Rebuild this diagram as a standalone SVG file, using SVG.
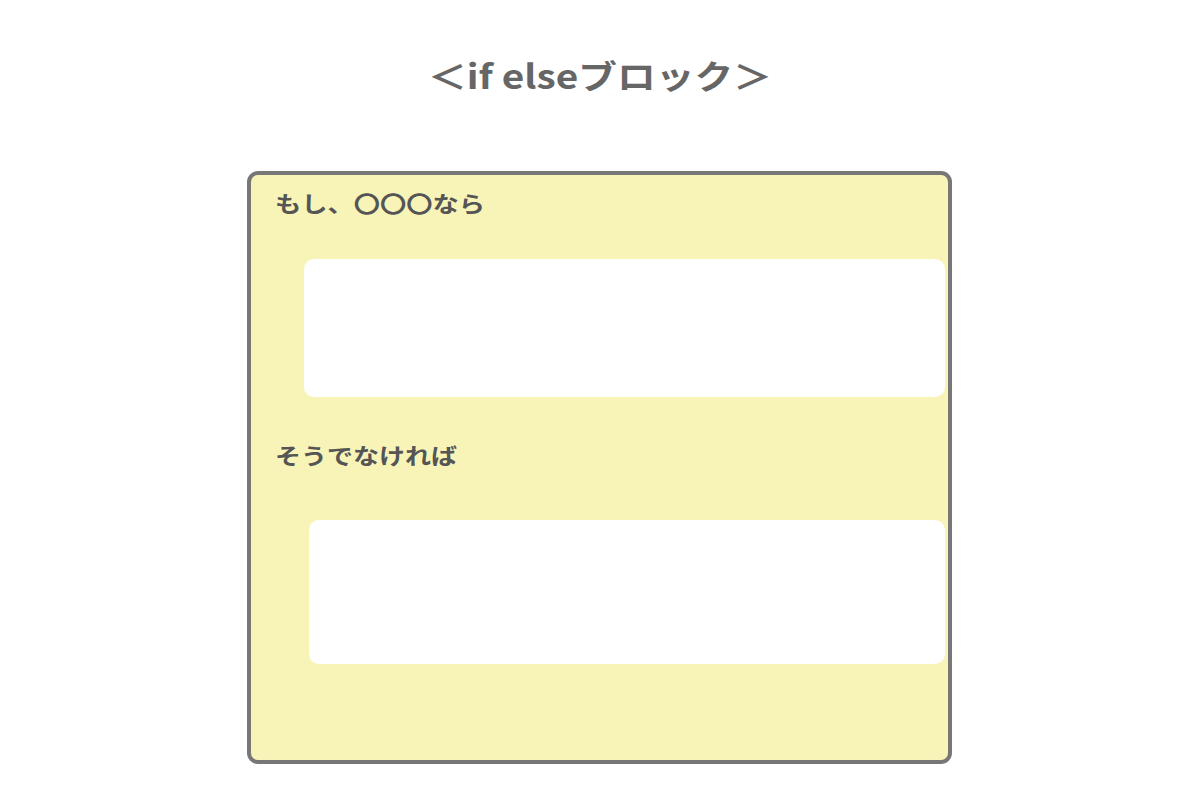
<svg xmlns="http://www.w3.org/2000/svg" width="1200" height="800" viewBox="0 0 1200 800">
<style>
.t{font-family:"Noto Sans CJK JP","Liberation Sans",sans-serif;fill:#555;font-weight:bold}
.slot{fill:#ffffff}
</style>
<rect width="1200" height="800" fill="#ffffff"/>
<text class="t" x="428" y="89" font-size="33" textLength="344" lengthAdjust="spacingAndGlyphs" style="fill:#666">＜if elseブロック＞</text>
<g id="ifelse-block">
<rect x="249" y="173" width="701" height="589" rx="9" fill="#f8f4b8" stroke="#777" stroke-width="4"/>
<text class="t" x="275" y="212" font-size="22" textLength="210" lengthAdjust="spacingAndGlyphs">もし、〇〇〇なら</text>
<text class="t" x="275" y="464" font-size="22" textLength="182" lengthAdjust="spacingAndGlyphs">そうでなければ</text>
</g>
<g id="if-slot"><rect class="slot" x="304" y="259" width="641" height="138" rx="10"/></g>
<g id="else-slot"><rect class="slot" x="309" y="520" width="636" height="144" rx="10"/></g>
<g id="connectors"></g>
</svg>
